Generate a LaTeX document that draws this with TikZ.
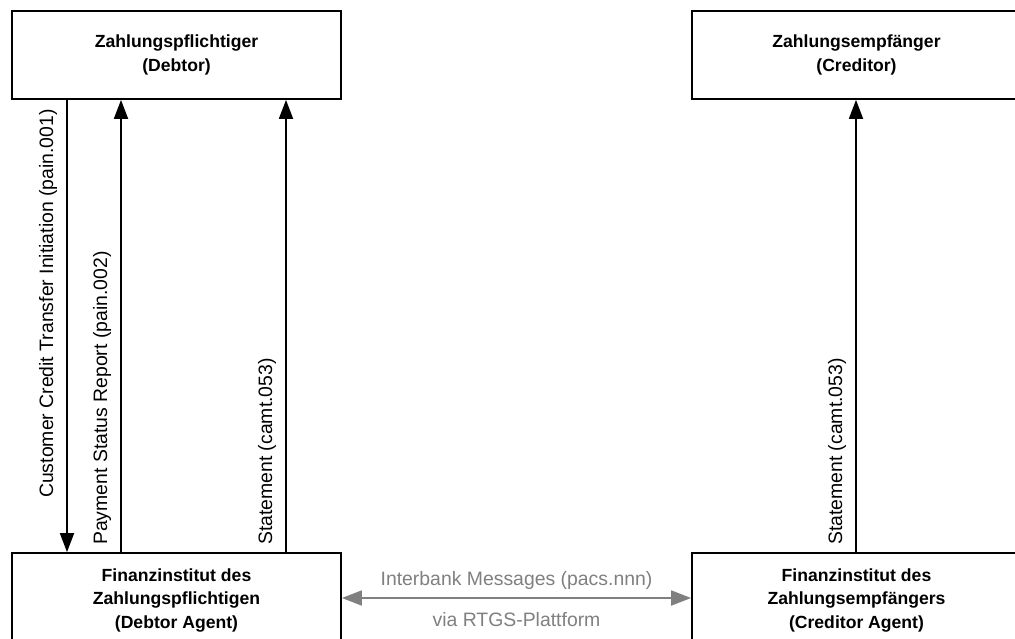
\documentclass[tikz,border=0pt]{standalone}
\usepackage{fontspec}
\setmainfont{Liberation Sans}
\usetikzlibrary{arrows.meta}
\definecolor{midgray}{RGB}{128,128,128}
\begin{document}
\begin{tikzpicture}[x=1pt,y=-1pt,
  box/.style={draw, line width=1.8pt, minimum width=329pt, minimum height=88pt, inner sep=0pt, align=center, font=\bfseries\fontsize{17.6}{23.5}\selectfont},
  msg/.style={line width=1.8pt, -{Triangle[width=14pt,length=19pt]}},
  garr/.style={line width=1.8pt, draw=midgray, {Triangle[width=15pt,length=20pt]}-{Triangle[width=15pt,length=20pt]}},
  lbl/.style={rotate=90, anchor=base west, inner sep=0pt, font=\fontsize{19.4}{23}\selectfont},
  glbl/.style={anchor=base, inner sep=0pt, text=midgray, font=\fontsize{19.4}{23}\selectfont},
]
\useasboundingbox (0,0) rectangle (1015,639);
\clip (0,0) rectangle (1015,639);
\fill[white] (0,0) rectangle (1015,639);

\node[box] (dt) at (176.5,55) {Zahlungspflichtiger\\(Debtor)};
\node[box] (ct) at (856.5,55) {Zahlungsempfänger\\(Creditor)};
\node[box, minimum height=94pt] (da) at (176.5,600) {Finanzinstitut des\\Zahlungspflichtigen\\(Debtor Agent)};
\node[box, minimum height=94pt] (ca) at (856.5,600) {Finanzinstitut des\\Zahlungsempfängers\\(Creditor Agent)};

\coordinate (x1) at (67,0);
\coordinate (x2) at (121,0);
\coordinate (x3) at (286,0);
\coordinate (x4) at (856,0);
\coordinate (iy) at (0,598);

\draw[msg] (x1 |- dt.south) -- (x1 |- da.north);
\draw[msg] (x2 |- da.north) -- (x2 |- dt.south);
\draw[msg] (x3 |- da.north) -- (x3 |- dt.south);
\draw[msg] (x4 |- ca.north) -- (x4 |- ct.south);

\node[lbl] (l1) at (53,498) {Customer Credit Transfer Initiation (pain.001)};
\node[lbl] (l2) at (107,545) {Payment Status Report (pain.002)};
\node[lbl] (l3) at (272,545) {Statement (camt.053)};
\node[lbl] (l4) at (842,545) {Statement (camt.053)};

\draw[garr] (da.east |- iy) -- (ca.west |- iy);
\node[glbl] (g1) at (516.5,585.5) {Interbank Messages (pacs.nnn)};
\node[glbl] (g2) at (516.5,626) {via RTGS-Plattform};
\end{tikzpicture}
\end{document}
